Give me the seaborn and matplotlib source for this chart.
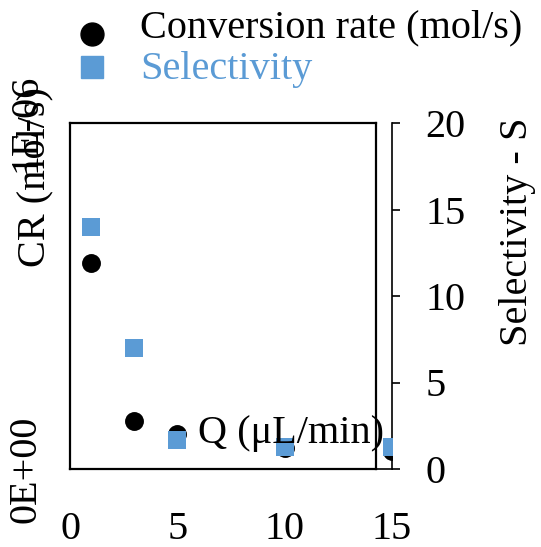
import matplotlib
matplotlib.use("Agg")
import matplotlib.pyplot as plt
import seaborn as sns
import pandas as pd
from matplotlib.lines import Line2D

# === Data ===
flow = [1, 3, 5, 10, 15]                      # Q (uL/min)
conv_rate = [0.595e-6, 0.139e-6, 0.101e-6, 0.061e-6, 0.052e-6]  # mol/s
selectivity = [14.0, 7.0, 1.7, 1.3, 1.3]
cr_ticks = [0, 1e-6]
cr_tick_labels = ["0E+00", "1E-06"]
s_ticks = [0, 5, 10, 15, 20]
x_ticks = [0, 5, 10, 15]

df = pd.DataFrame({"Q": flow, "CR": conv_rate, "S": selectivity})

sns.set_style("white")
plt.rcParams['font.family'] = ['Liberation Serif', 'DejaVu Serif']
plt.rcParams.update({"text.color": "black", "axes.labelcolor": "black",
                     "xtick.color": "black", "ytick.color": "black"})
FS = 29
BLUE = "#5B9BD5"

W, H = 541, 547
fig = plt.figure(figsize=(W / 100, H / 100), dpi=100)

def rect(x0, y0, x1, y1):
    return [x0 / W, 1 - y1 / H, (x1 - x0) / W, (y1 - y0) / H]

# === Plot-area box (carries the left axis labels) ===
ax_box = fig.add_axes(rect(70, 123, 376, 469))
ax_box.set_facecolor("none")
for sp in ax_box.spines.values():
    sp.set_color("black")
    sp.set_linewidth(1.6)
ax_box.set_xticks([])
ax_box.set_ylim(0, 1e-6)
ax_box.set_yticks(cr_ticks)
ax_box.set_yticklabels(cr_tick_labels, rotation=90, fontsize=FS, color="black")
for lbl in ax_box.get_yticklabels():
    lbl.set_va("center")
ax_box.tick_params(axis="y", length=0, pad=18)

# === Data axes: conversion rate (left scale) ===
ax_cr = fig.add_axes(rect(70, 123, 392, 469))
ax_cr.set_facecolor("none")
sns.scatterplot(data=df, x="Q", y="CR", ax=ax_cr, color="black", marker="o",
                s=185, linewidth=0, legend=False, zorder=3)
ax_cr.set_xlim(0, 15)
ax_cr.set_ylim(0, 1e-6)
ax_cr.set_xticks(x_ticks)
ax_cr.set_xticklabels([str(t) for t in x_ticks], fontsize=FS, color="black")
ax_cr.set_yticks([])
ax_cr.tick_params(axis="x", length=0, pad=30)
ax_cr.set_xlabel("")
ax_cr.set_ylabel("")
for name, sp in ax_cr.spines.items():
    sp.set_visible(name == "bottom")
ax_cr.spines["bottom"].set_linewidth(1.2)
ax_cr.spines["bottom"].set_color("black")

# === Selectivity (right scale) ===
ax_s = ax_cr.twinx()
sns.scatterplot(data=df, x="Q", y="S", ax=ax_s, color=BLUE, marker="s",
                s=185, linewidth=0, legend=False, zorder=4)
ax_s.set_ylim(0, 20)
ax_s.set_yticks(s_ticks)
ax_s.set_yticklabels([str(t) for t in s_ticks], fontsize=FS, color="black")
ax_s.tick_params(axis="y", direction="out", length=6, width=1.2, pad=18,
                 right=True, colors="black")
ax_s.set_ylabel("")
for name, sp in ax_s.spines.items():
    sp.set_visible(name == "right")
ax_s.spines["right"].set_linewidth(1.2)
ax_s.spines["right"].set_color("black")

# === Axis titles (placed where the reference has them) ===
fig.text(35 / W, 1 - 177 / H, "CR (mol/s)", rotation=90, fontsize=FS,
         ha="center", va="center", color="black")
fig.text(517 / W, 1 - 232 / H, "Selectivity - S", rotation=90, fontsize=FS,
         ha="center", va="center", color="black")
fig.text(198 / W, 1 - 433 / H, "Q (\u03bcL/min)", fontsize=FS,
         ha="left", va="center", color="black")

# === Legend (drawn by hand to match the offset markers) ===
fig.add_artist(Line2D([92 / W], [1 - 34 / H], marker="o", color="black",
                      linestyle="none", markersize=16.5,
                      transform=fig.transFigure))
fig.add_artist(Line2D([92 / W], [1 - 67 / H], marker="s", color=BLUE,
                      linestyle="none", markersize=15.5,
                      transform=fig.transFigure))
fig.text(140 / W, 1 - 37 / H, "Conversion rate (mol/s)", fontsize=FS,
         ha="left", va="baseline", color="black")
fig.text(140 / W, 1 - 79 / H, "Selectivity", fontsize=FS,
         ha="left", va="baseline", color=BLUE)

fig.savefig("out.png", dpi=100)
